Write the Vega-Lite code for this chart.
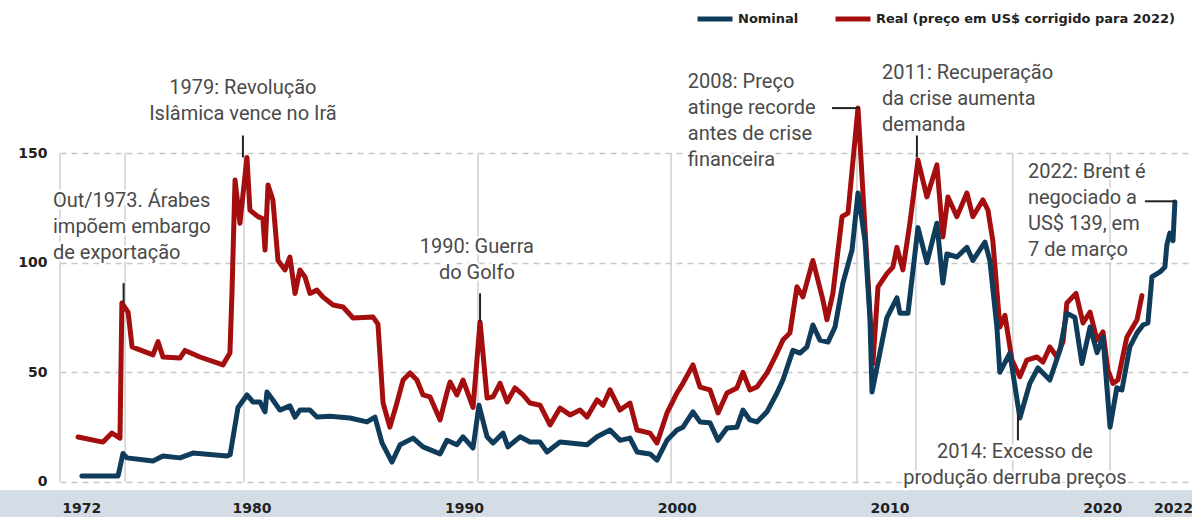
{
  "$schema": "https://vega.github.io/schema/vega-lite/v6.json",
  "width": 1130,
  "height": 452,
  "autosize": {"type": "none"},
  "padding": {"left": 60, "top": 40, "right": 2, "bottom": 25},
  "background": "white",
  "config": {
    "view": {"stroke": null},
    "legend": {
      "orient": "none", "legendX": 635, "legendY": -41, "direction": "horizontal",
      "symbolType": "stroke", "symbolStrokeWidth": 5, "symbolSize": 1225,
      "labelFont": "DejaVu Sans", "labelFontWeight": "bold", "labelFontSize": 13, "labelColor": "#222222", "labelLimit": 500,
      "columnPadding": 26, "labelOffset": 3, "padding": 0, "title": null
    }
  },
  "datasets": {
    "series": [
      {"s": "Real (preço em US$ corrigido para 2022)", "t": 1971.85, "v": 20.5},
      {"s": "Real (preço em US$ corrigido para 2022)", "t": 1973.02, "v": 18.2},
      {"s": "Real (preço em US$ corrigido para 2022)", "t": 1973.44, "v": 22.3},
      {"s": "Real (preço em US$ corrigido para 2022)", "t": 1973.82, "v": 20},
      {"s": "Real (preço em US$ corrigido para 2022)", "t": 1973.91, "v": 81.6},
      {"s": "Real (preço em US$ corrigido para 2022)", "t": 1974.2, "v": 77.5},
      {"s": "Real (preço em US$ corrigido para 2022)", "t": 1974.39, "v": 61.6},
      {"s": "Real (preço em US$ corrigido para 2022)", "t": 1975.37, "v": 58},
      {"s": "Real (preço em US$ corrigido para 2022)", "t": 1975.61, "v": 64},
      {"s": "Real (preço em US$ corrigido para 2022)", "t": 1975.84, "v": 57},
      {"s": "Real (preço em US$ corrigido para 2022)", "t": 1976.64, "v": 56.5},
      {"s": "Real (preço em US$ corrigido para 2022)", "t": 1976.88, "v": 60},
      {"s": "Real (preço em US$ corrigido para 2022)", "t": 1977.58, "v": 57},
      {"s": "Real (preço em US$ corrigido para 2022)", "t": 1978.66, "v": 53.4},
      {"s": "Real (preço em US$ corrigido para 2022)", "t": 1978.99, "v": 58.8},
      {"s": "Real (preço em US$ corrigido para 2022)", "t": 1979.09, "v": 87.5},
      {"s": "Real (preço em US$ corrigido para 2022)", "t": 1979.23, "v": 137.7},
      {"s": "Real (preço em US$ corrigido para 2022)", "t": 1979.46, "v": 118},
      {"s": "Real (preço em US$ corrigido para 2022)", "t": 1979.79, "v": 148},
      {"s": "Real (preço em US$ corrigido para 2022)", "t": 1979.93, "v": 124},
      {"s": "Real (preço em US$ corrigido para 2022)", "t": 1980.31, "v": 121},
      {"s": "Real (preço em US$ corrigido para 2022)", "t": 1980.54, "v": 120},
      {"s": "Real (preço em US$ corrigido para 2022)", "t": 1980.64, "v": 105.8},
      {"s": "Real (preço em US$ corrigido para 2022)", "t": 1980.78, "v": 135.4},
      {"s": "Real (preço em US$ corrigido para 2022)", "t": 1981.01, "v": 128.6},
      {"s": "Real (preço em US$ corrigido para 2022)", "t": 1981.25, "v": 101},
      {"s": "Real (preço em US$ corrigido para 2022)", "t": 1981.58, "v": 96.7},
      {"s": "Real (preço em US$ corrigido para 2022)", "t": 1981.81, "v": 102.6},
      {"s": "Real (preço em US$ corrigido para 2022)", "t": 1982.05, "v": 86},
      {"s": "Real (preço em US$ corrigido para 2022)", "t": 1982.28, "v": 96.7},
      {"s": "Real (preço em US$ corrigido para 2022)", "t": 1982.52, "v": 93.5},
      {"s": "Real (preço em US$ corrigido para 2022)", "t": 1982.75, "v": 86},
      {"s": "Real (preço em US$ corrigido para 2022)", "t": 1983.08, "v": 87.5},
      {"s": "Real (preço em US$ corrigido para 2022)", "t": 1983.36, "v": 84.4},
      {"s": "Real (preço em US$ corrigido para 2022)", "t": 1983.84, "v": 80.7},
      {"s": "Real (preço em US$ corrigido para 2022)", "t": 1984.31, "v": 79.8},
      {"s": "Real (preço em US$ corrigido para 2022)", "t": 1984.78, "v": 74.8},
      {"s": "Real (preço em US$ corrigido para 2022)", "t": 1985.72, "v": 75.2},
      {"s": "Real (preço em US$ corrigido para 2022)", "t": 1985.95, "v": 72},
      {"s": "Real (preço em US$ corrigido para 2022)", "t": 1986.19, "v": 36},
      {"s": "Real (preço em US$ corrigido para 2022)", "t": 1986.51, "v": 25},
      {"s": "Real (preço em US$ corrigido para 2022)", "t": 1986.84, "v": 36},
      {"s": "Real (preço em US$ corrigido para 2022)", "t": 1987.13, "v": 46.5},
      {"s": "Real (preço em US$ corrigido para 2022)", "t": 1987.46, "v": 49.7},
      {"s": "Real (preço em US$ corrigido para 2022)", "t": 1987.78, "v": 46.5},
      {"s": "Real (preço em US$ corrigido para 2022)", "t": 1988.07, "v": 39.7},
      {"s": "Real (preço em US$ corrigido para 2022)", "t": 1988.4, "v": 38.8},
      {"s": "Real (preço em US$ corrigido para 2022)", "t": 1988.87, "v": 28.3},
      {"s": "Real (preço em US$ corrigido para 2022)", "t": 1989.19, "v": 40.6},
      {"s": "Real (preço em US$ corrigido para 2022)", "t": 1989.34, "v": 45.6},
      {"s": "Real (preço em US$ corrigido para 2022)", "t": 1989.66, "v": 39.7},
      {"s": "Real (preço em US$ corrigido para 2022)", "t": 1989.95, "v": 46.5},
      {"s": "Real (preço em US$ corrigido para 2022)", "t": 1990.42, "v": 34},
      {"s": "Real (preço em US$ corrigido para 2022)", "t": 1990.75, "v": 73},
      {"s": "Real (preço em US$ corrigido para 2022)", "t": 1991.08, "v": 38.3},
      {"s": "Real (preço em US$ corrigido para 2022)", "t": 1991.36, "v": 38.8},
      {"s": "Real (preço em US$ corrigido para 2022)", "t": 1991.69, "v": 45},
      {"s": "Real (preço em US$ corrigido para 2022)", "t": 1992.02, "v": 36.5},
      {"s": "Real (preço em US$ corrigido para 2022)", "t": 1992.39, "v": 42.9},
      {"s": "Real (preço em US$ corrigido para 2022)", "t": 1992.77, "v": 39.7},
      {"s": "Real (preço em US$ corrigido para 2022)", "t": 1993.1, "v": 36},
      {"s": "Real (preço em US$ corrigido para 2022)", "t": 1993.57, "v": 35},
      {"s": "Real (preço em US$ corrigido para 2022)", "t": 1994.04, "v": 26},
      {"s": "Real (preço em US$ corrigido para 2022)", "t": 1994.51, "v": 33.7},
      {"s": "Real (preço em US$ corrigido para 2022)", "t": 1994.98, "v": 30.6},
      {"s": "Real (preço em US$ corrigido para 2022)", "t": 1995.45, "v": 32.8},
      {"s": "Real (preço em US$ corrigido para 2022)", "t": 1995.78, "v": 29.6},
      {"s": "Real (preço em US$ corrigido para 2022)", "t": 1996.25, "v": 37.4},
      {"s": "Real (preço em US$ corrigido para 2022)", "t": 1996.53, "v": 35},
      {"s": "Real (preço em US$ corrigido para 2022)", "t": 1996.86, "v": 42},
      {"s": "Real (preço em US$ corrigido para 2022)", "t": 1997.33, "v": 32.8},
      {"s": "Real (preço em US$ corrigido para 2022)", "t": 1997.8, "v": 36},
      {"s": "Real (preço em US$ corrigido para 2022)", "t": 1998.13, "v": 23.7},
      {"s": "Real (preço em US$ corrigido para 2022)", "t": 1998.74, "v": 22.3},
      {"s": "Real (preço em US$ corrigido para 2022)", "t": 1999.07, "v": 17.8},
      {"s": "Real (preço em US$ corrigido para 2022)", "t": 1999.54, "v": 31.5},
      {"s": "Real (preço em US$ corrigido para 2022)", "t": 2000.01, "v": 40.6},
      {"s": "Real (preço em US$ corrigido para 2022)", "t": 2000.29, "v": 45},
      {"s": "Real (preço em US$ corrigido para 2022)", "t": 2000.76, "v": 53.4},
      {"s": "Real (preço em US$ corrigido para 2022)", "t": 2001.09, "v": 43.3},
      {"s": "Real (preço em US$ corrigido para 2022)", "t": 2001.56, "v": 42},
      {"s": "Real (preço em US$ corrigido para 2022)", "t": 2001.94, "v": 31.5},
      {"s": "Real (preço em US$ corrigido para 2022)", "t": 2002.36, "v": 40.6},
      {"s": "Real (preço em US$ corrigido para 2022)", "t": 2002.83, "v": 42.9},
      {"s": "Real (preço em US$ corrigido para 2022)", "t": 2003.11, "v": 50},
      {"s": "Real (preço em US$ corrigido para 2022)", "t": 2003.44, "v": 42},
      {"s": "Real (preço em US$ corrigido para 2022)", "t": 2003.77, "v": 43.3},
      {"s": "Real (preço em US$ corrigido para 2022)", "t": 2004.24, "v": 49.7},
      {"s": "Real (preço em US$ corrigido para 2022)", "t": 2004.71, "v": 58.8},
      {"s": "Real (preço em US$ corrigido para 2022)", "t": 2004.99, "v": 64.7},
      {"s": "Real (preço em US$ corrigido para 2022)", "t": 2005.32, "v": 68},
      {"s": "Real (preço em US$ corrigido para 2022)", "t": 2005.65, "v": 89},
      {"s": "Real (preço em US$ corrigido para 2022)", "t": 2005.93, "v": 84.4},
      {"s": "Real (preço em US$ corrigido para 2022)", "t": 2006.4, "v": 101},
      {"s": "Real (preço em US$ corrigido para 2022)", "t": 2006.87, "v": 83},
      {"s": "Real (preço em US$ corrigido para 2022)", "t": 2007.06, "v": 74},
      {"s": "Real (preço em US$ corrigido para 2022)", "t": 2007.34, "v": 86},
      {"s": "Real (preço em US$ corrigido para 2022)", "t": 2007.77, "v": 121},
      {"s": "Real (preço em US$ corrigido para 2022)", "t": 2008.05, "v": 122.6},
      {"s": "Real (preço em US$ corrigido para 2022)", "t": 2008.52, "v": 170.5},
      {"s": "Real (preço em US$ corrigido para 2022)", "t": 2008.71, "v": 139},
      {"s": "Real (preço em US$ corrigido para 2022)", "t": 2008.99, "v": 92},
      {"s": "Real (preço em US$ corrigido para 2022)", "t": 2009.22, "v": 54},
      {"s": "Real (preço em US$ corrigido para 2022)", "t": 2009.46, "v": 89},
      {"s": "Real (preço em US$ corrigido para 2022)", "t": 2009.88, "v": 95},
      {"s": "Real (preço em US$ corrigido para 2022)", "t": 2010.16, "v": 98},
      {"s": "Real (preço em US$ corrigido para 2022)", "t": 2010.35, "v": 107},
      {"s": "Real (preço em US$ corrigido para 2022)", "t": 2010.63, "v": 96.7},
      {"s": "Real (preço em US$ corrigido para 2022)", "t": 2010.96, "v": 118},
      {"s": "Real (preço em US$ corrigido para 2022)", "t": 2011.34, "v": 146.8},
      {"s": "Real (preço em US$ corrigido para 2022)", "t": 2011.76, "v": 130},
      {"s": "Real (preço em US$ corrigido para 2022)", "t": 2012.23, "v": 144.6},
      {"s": "Real (preço em US$ corrigido para 2022)", "t": 2012.51, "v": 111.7},
      {"s": "Real (preço em US$ corrigido para 2022)", "t": 2012.75, "v": 130},
      {"s": "Real (preço em US$ corrigido para 2022)", "t": 2013.17, "v": 121},
      {"s": "Real (preço em US$ corrigido para 2022)", "t": 2013.64, "v": 131.8},
      {"s": "Real (preço em US$ corrigido para 2022)", "t": 2013.92, "v": 121},
      {"s": "Real (preço em US$ corrigido para 2022)", "t": 2014.39, "v": 128.6},
      {"s": "Real (preço em US$ corrigido para 2022)", "t": 2014.63, "v": 124},
      {"s": "Real (preço em US$ corrigido para 2022)", "t": 2014.86, "v": 110},
      {"s": "Real (preço em US$ corrigido para 2022)", "t": 2015.19, "v": 70.7},
      {"s": "Real (preço em US$ corrigido para 2022)", "t": 2015.43, "v": 76},
      {"s": "Real (preço em US$ corrigido para 2022)", "t": 2015.76, "v": 55.6},
      {"s": "Real (preço em US$ corrigido para 2022)", "t": 2016.13, "v": 48},
      {"s": "Real (preço em US$ corrigido para 2022)", "t": 2016.46, "v": 55.6},
      {"s": "Real (preço em US$ corrigido para 2022)", "t": 2016.93, "v": 57},
      {"s": "Real (preço em US$ corrigido para 2022)", "t": 2017.22, "v": 54.7},
      {"s": "Real (preço em US$ corrigido para 2022)", "t": 2017.54, "v": 61.6},
      {"s": "Real (preço em US$ corrigido para 2022)", "t": 2017.87, "v": 57},
      {"s": "Real (preço em US$ corrigido para 2022)", "t": 2018.16, "v": 64},
      {"s": "Real (preço em US$ corrigido para 2022)", "t": 2018.34, "v": 81.6},
      {"s": "Real (preço em US$ corrigido para 2022)", "t": 2018.77, "v": 86},
      {"s": "Real (preço em US$ corrigido para 2022)", "t": 2019.1, "v": 72.5},
      {"s": "Real (preço em US$ corrigido para 2022)", "t": 2019.43, "v": 77.5},
      {"s": "Real (preço em US$ corrigido para 2022)", "t": 2019.76, "v": 64.7},
      {"s": "Real (preço em US$ corrigido para 2022)", "t": 2020.04, "v": 68.4},
      {"s": "Real (preço em US$ corrigido para 2022)", "t": 2020.27, "v": 51},
      {"s": "Real (preço em US$ corrigido para 2022)", "t": 2020.51, "v": 45},
      {"s": "Real (preço em US$ corrigido para 2022)", "t": 2020.74, "v": 46.5},
      {"s": "Real (preço em US$ corrigido para 2022)", "t": 2021.16, "v": 66},
      {"s": "Real (preço em US$ corrigido para 2022)", "t": 2021.64, "v": 74},
      {"s": "Real (preço em US$ corrigido para 2022)", "t": 2021.87, "v": 85},
      {"s": "Nominal", "t": 1972.03, "v": 2.7},
      {"s": "Nominal", "t": 1973.73, "v": 2.7},
      {"s": "Nominal", "t": 1973.96, "v": 13},
      {"s": "Nominal", "t": 1974.15, "v": 11},
      {"s": "Nominal", "t": 1975.37, "v": 9.6},
      {"s": "Nominal", "t": 1975.84, "v": 11.9},
      {"s": "Nominal", "t": 1976.64, "v": 11},
      {"s": "Nominal", "t": 1977.25, "v": 13.2},
      {"s": "Nominal", "t": 1978.85, "v": 11.9},
      {"s": "Nominal", "t": 1979.0, "v": 12.5},
      {"s": "Nominal", "t": 1979.37, "v": 34},
      {"s": "Nominal", "t": 1979.79, "v": 39.7},
      {"s": "Nominal", "t": 1980.07, "v": 36.5},
      {"s": "Nominal", "t": 1980.4, "v": 36.5},
      {"s": "Nominal", "t": 1980.64, "v": 32},
      {"s": "Nominal", "t": 1980.73, "v": 41},
      {"s": "Nominal", "t": 1981.01, "v": 37.4},
      {"s": "Nominal", "t": 1981.34, "v": 32.8},
      {"s": "Nominal", "t": 1981.81, "v": 34.7},
      {"s": "Nominal", "t": 1982.05, "v": 29.6},
      {"s": "Nominal", "t": 1982.28, "v": 32.8},
      {"s": "Nominal", "t": 1982.75, "v": 32.8},
      {"s": "Nominal", "t": 1983.08, "v": 29.6},
      {"s": "Nominal", "t": 1983.69, "v": 30},
      {"s": "Nominal", "t": 1984.63, "v": 29.2},
      {"s": "Nominal", "t": 1985.43, "v": 27.4},
      {"s": "Nominal", "t": 1985.81, "v": 29.6},
      {"s": "Nominal", "t": 1986.14, "v": 17.8},
      {"s": "Nominal", "t": 1986.61, "v": 9.1},
      {"s": "Nominal", "t": 1986.99, "v": 17},
      {"s": "Nominal", "t": 1987.6, "v": 20},
      {"s": "Nominal", "t": 1988.07, "v": 16},
      {"s": "Nominal", "t": 1988.87, "v": 12.8},
      {"s": "Nominal", "t": 1989.19, "v": 19},
      {"s": "Nominal", "t": 1989.66, "v": 17},
      {"s": "Nominal", "t": 1989.95, "v": 20.6},
      {"s": "Nominal", "t": 1990.42, "v": 15.5},
      {"s": "Nominal", "t": 1990.7, "v": 35},
      {"s": "Nominal", "t": 1991.08, "v": 20.6},
      {"s": "Nominal", "t": 1991.36, "v": 17.8},
      {"s": "Nominal", "t": 1991.83, "v": 22.3},
      {"s": "Nominal", "t": 1992.06, "v": 16},
      {"s": "Nominal", "t": 1992.63, "v": 20.6},
      {"s": "Nominal", "t": 1993.1, "v": 18.2},
      {"s": "Nominal", "t": 1993.57, "v": 18.2},
      {"s": "Nominal", "t": 1993.9, "v": 13.7},
      {"s": "Nominal", "t": 1994.51, "v": 18.2},
      {"s": "Nominal", "t": 1995.78, "v": 17},
      {"s": "Nominal", "t": 1996.25, "v": 20.6},
      {"s": "Nominal", "t": 1996.86, "v": 23.7},
      {"s": "Nominal", "t": 1997.33, "v": 19},
      {"s": "Nominal", "t": 1997.8, "v": 20},
      {"s": "Nominal", "t": 1998.13, "v": 13.7},
      {"s": "Nominal", "t": 1998.74, "v": 12.8},
      {"s": "Nominal", "t": 1999.07, "v": 10},
      {"s": "Nominal", "t": 1999.54, "v": 19},
      {"s": "Nominal", "t": 2000.01, "v": 23.7},
      {"s": "Nominal", "t": 2000.29, "v": 25},
      {"s": "Nominal", "t": 2000.76, "v": 32},
      {"s": "Nominal", "t": 2001.09, "v": 27.4},
      {"s": "Nominal", "t": 2001.56, "v": 27},
      {"s": "Nominal", "t": 2001.94, "v": 19},
      {"s": "Nominal", "t": 2002.36, "v": 24.6},
      {"s": "Nominal", "t": 2002.83, "v": 25},
      {"s": "Nominal", "t": 2003.11, "v": 32.8},
      {"s": "Nominal", "t": 2003.44, "v": 28.3},
      {"s": "Nominal", "t": 2003.77, "v": 27.4},
      {"s": "Nominal", "t": 2004.24, "v": 32},
      {"s": "Nominal", "t": 2004.71, "v": 40.6},
      {"s": "Nominal", "t": 2004.99, "v": 46.5},
      {"s": "Nominal", "t": 2005.46, "v": 60},
      {"s": "Nominal", "t": 2005.79, "v": 58.8},
      {"s": "Nominal", "t": 2006.12, "v": 61.6},
      {"s": "Nominal", "t": 2006.4, "v": 71.6},
      {"s": "Nominal", "t": 2006.73, "v": 64.7},
      {"s": "Nominal", "t": 2007.11, "v": 63.8},
      {"s": "Nominal", "t": 2007.44, "v": 70.7},
      {"s": "Nominal", "t": 2007.81, "v": 90.7},
      {"s": "Nominal", "t": 2008.24, "v": 105.8},
      {"s": "Nominal", "t": 2008.52, "v": 131.8},
      {"s": "Nominal", "t": 2008.85, "v": 110},
      {"s": "Nominal", "t": 2009.08, "v": 75},
      {"s": "Nominal", "t": 2009.18, "v": 41},
      {"s": "Nominal", "t": 2009.88, "v": 75},
      {"s": "Nominal", "t": 2010.35, "v": 84},
      {"s": "Nominal", "t": 2010.49, "v": 77},
      {"s": "Nominal", "t": 2010.87, "v": 77},
      {"s": "Nominal", "t": 2011.34, "v": 116},
      {"s": "Nominal", "t": 2011.76, "v": 100},
      {"s": "Nominal", "t": 2012.23, "v": 118},
      {"s": "Nominal", "t": 2012.51, "v": 90.7},
      {"s": "Nominal", "t": 2012.7, "v": 104},
      {"s": "Nominal", "t": 2013.17, "v": 102.6},
      {"s": "Nominal", "t": 2013.64, "v": 107},
      {"s": "Nominal", "t": 2013.92, "v": 101},
      {"s": "Nominal", "t": 2014.49, "v": 109.4},
      {"s": "Nominal", "t": 2014.72, "v": 101},
      {"s": "Nominal", "t": 2015.05, "v": 70.7},
      {"s": "Nominal", "t": 2015.19, "v": 50},
      {"s": "Nominal", "t": 2015.66, "v": 58.8},
      {"s": "Nominal", "t": 2016.13, "v": 29.2},
      {"s": "Nominal", "t": 2016.6, "v": 45},
      {"s": "Nominal", "t": 2016.98, "v": 52},
      {"s": "Nominal", "t": 2017.54, "v": 46.5},
      {"s": "Nominal", "t": 2018.01, "v": 60},
      {"s": "Nominal", "t": 2018.34, "v": 77},
      {"s": "Nominal", "t": 2018.72, "v": 75},
      {"s": "Nominal", "t": 2019.05, "v": 54},
      {"s": "Nominal", "t": 2019.43, "v": 70.7},
      {"s": "Nominal", "t": 2019.76, "v": 59},
      {"s": "Nominal", "t": 2020.04, "v": 66},
      {"s": "Nominal", "t": 2020.37, "v": 25},
      {"s": "Nominal", "t": 2020.69, "v": 43},
      {"s": "Nominal", "t": 2020.93, "v": 42},
      {"s": "Nominal", "t": 2021.3, "v": 61.6},
      {"s": "Nominal", "t": 2021.64, "v": 68},
      {"s": "Nominal", "t": 2021.92, "v": 71.6},
      {"s": "Nominal", "t": 2022.15, "v": 72.5},
      {"s": "Nominal", "t": 2022.34, "v": 93.5},
      {"s": "Nominal", "t": 2022.72, "v": 95.8},
      {"s": "Nominal", "t": 2022.95, "v": 98},
      {"s": "Nominal", "t": 2023.04, "v": 108},
      {"s": "Nominal", "t": 2023.18, "v": 113.5},
      {"s": "Nominal", "t": 2023.33, "v": 110},
      {"s": "Nominal", "t": 2023.42, "v": 127.7}
    ],
    "vgrid": [
      {"t": 1971.0, "a": 0, "b": 150},
      {"t": 1974.06, "a": 0, "b": 150},
      {"t": 1979.65, "a": 0, "b": 150},
      {"t": 1990.65, "a": 0, "b": 150},
      {"t": 1999.73, "a": 0, "b": 150},
      {"t": 2008.47, "a": 0, "b": 150},
      {"t": 2011.24, "a": 0, "b": 150},
      {"t": 2015.8, "a": 0, "b": 150},
      {"t": 2020.37, "a": 0, "b": 150}
    ],
    "leaders": [
      {"x": 1973.99, "x2": 1973.99, "y": 90.7, "y2": 81.6},
      {"x": 1979.6, "x2": 1979.6, "y": 158, "y2": 148},
      {"x": 1990.75, "x2": 1990.75, "y": 86, "y2": 73},
      {"x": 2007.3, "x2": 2008.61, "y": 170.5, "y2": 170.5},
      {"x": 2011.29, "x2": 2011.29, "y": 158, "y2": 148},
      {"x": 2016.04, "x2": 2016.04, "y": 30.5, "y2": 19},
      {"x": 2022.01, "x2": 2023.42, "y": 128, "y2": 128}
    ],
    "notes": [
      {"x": 1970.67, "y": 128.1, "a": "l", "label": "Out/1973. Árabes\nimpõem embargo\nde exportação"},
      {"x": 1979.6, "y": 179.7, "a": "c", "label": "1979: Revolução\nIslâmica vence no Irã"},
      {"x": 1990.6, "y": 107.2, "a": "c", "label": "1990: Guerra\ndo Golfo"},
      {"x": 2000.52, "y": 182.4, "a": "l", "label": "2008: Preço\natinge recorde\nantes de crise\nfinanceira"},
      {"x": 2009.65, "y": 186.5, "a": "l", "label": "2011: Recuperação\nda crise aumenta\ndemanda"},
      {"x": 2016.51, "y": 141.4, "a": "l", "label": "2022: Brent é\nnegociado a\nUS$ 139, em\n7 de março"},
      {"x": 2015.9, "y": 13.7, "a": "c", "label": "2014: Excesso de\nprodução derruba preços"}
    ],
    "band": [
      {"x": 1968, "x2": 2025, "y": -3.65, "y2": -16}
    ]
  },
  "layer": [
    {
      "data": {"name": "band"},
      "mark": {"type": "rect", "color": "#d4dde6"},
      "encoding": {
        "x": {"field": "x", "type": "quantitative", "scale": {"domain": [1971, 2024.13], "nice": false, "zero": false},
          "axis": {"values": [1972, 1980, 1990, 2000, 2010, 2020, 2023.33], "labelExpr": "datum.value > 2021 ? '2022' : format(datum.value, 'd')",
            "grid": false, "domain": false, "ticks": false, "labelPadding": 9, "zindex": 1, "title": null,
            "labelFont": "DejaVu Sans", "labelFontWeight": "bold", "labelFontSize": 14, "labelColor": "#222222", "labelFlush": false, "labelOverlap": false}},
        "x2": {"field": "x2"},
        "y": {"field": "y", "type": "quantitative", "scale": {"domain": [-4.56, 201.55], "nice": false, "zero": false},
          "axis": {"values": [0, 50, 100, 150], "grid": true, "gridDash": [6, 5], "gridColor": "#c8c8c8", "gridWidth": 1.3,
            "domain": false, "ticks": false, "labelPadding": 13, "title": null,
            "labelFont": "DejaVu Sans", "labelFontWeight": "bold", "labelFontSize": 14, "labelColor": "#222222"}},
        "y2": {"field": "y2"}
      }
    },
    {
      "data": {"name": "vgrid"},
      "mark": {"type": "rule", "color": "#d0d0d0", "strokeWidth": 1.5},
      "encoding": {
        "x": {"field": "t", "type": "quantitative"},
        "y": {"field": "a", "type": "quantitative"},
        "y2": {"field": "b"}
      }
    },
    {
      "data": {"name": "series"},
      "transform": [{"filter": "datum.s != 'Nominal'"}],
      "mark": {"type": "line", "strokeWidth": 5, "strokeJoin": "round", "strokeCap": "round"},
      "encoding": {
        "x": {"field": "t", "type": "quantitative"},
        "y": {"field": "v", "type": "quantitative"},
        "color": {"field": "s", "type": "nominal",
          "scale": {"domain": ["Nominal", "Real (preço em US$ corrigido para 2022)"], "range": ["#0f3c5b", "#a50e0e"]}}
      }
    },
    {
      "data": {"name": "series"},
      "transform": [{"filter": "datum.s == 'Nominal'"}],
      "mark": {"type": "line", "strokeWidth": 5, "strokeJoin": "round", "strokeCap": "round"},
      "encoding": {
        "x": {"field": "t", "type": "quantitative"},
        "y": {"field": "v", "type": "quantitative"},
        "color": {"field": "s", "type": "nominal"}
      }
    },
    {
      "data": {"name": "leaders"},
      "mark": {"type": "rule", "color": "#222222", "strokeWidth": 2},
      "encoding": {
        "x": {"field": "x", "type": "quantitative"},
        "x2": {"field": "x2"},
        "y": {"field": "y", "type": "quantitative"},
        "y2": {"field": "y2"}
      }
    },
    {
      "data": {"name": "notes"},
      "transform": [{"filter": "datum.a == 'l'"}],
      "mark": {"type": "text", "align": "left", "baseline": "middle", "lineBreak": "\n", "lineHeight": 26,
        "font": "Roboto", "fontSize": 20, "stroke": "white", "strokeWidth": 5, "strokeJoin": "round", "color": "white"},
      "encoding": {"x": {"field": "x", "type": "quantitative"}, "y": {"field": "y", "type": "quantitative"}, "text": {"field": "label"}}
    },
    {
      "data": {"name": "notes"},
      "transform": [{"filter": "datum.a == 'c'"}],
      "mark": {"type": "text", "align": "center", "baseline": "middle", "lineBreak": "\n", "lineHeight": 26,
        "font": "Roboto", "fontSize": 20, "stroke": "white", "strokeWidth": 5, "strokeJoin": "round", "color": "white"},
      "encoding": {"x": {"field": "x", "type": "quantitative"}, "y": {"field": "y", "type": "quantitative"}, "text": {"field": "label"}}
    },
    {
      "data": {"name": "notes"},
      "transform": [{"filter": "datum.a == 'l'"}],
      "mark": {"type": "text", "align": "left", "baseline": "middle", "lineBreak": "\n", "lineHeight": 26,
        "font": "Roboto", "fontSize": 20, "color": "#4a4a4a"},
      "encoding": {"x": {"field": "x", "type": "quantitative"}, "y": {"field": "y", "type": "quantitative"}, "text": {"field": "label"}}
    },
    {
      "data": {"name": "notes"},
      "transform": [{"filter": "datum.a == 'c'"}],
      "mark": {"type": "text", "align": "center", "baseline": "middle", "lineBreak": "\n", "lineHeight": 26,
        "font": "Roboto", "fontSize": 20, "color": "#4a4a4a"},
      "encoding": {"x": {"field": "x", "type": "quantitative"}, "y": {"field": "y", "type": "quantitative"}, "text": {"field": "label"}}
    }
  ]
}
